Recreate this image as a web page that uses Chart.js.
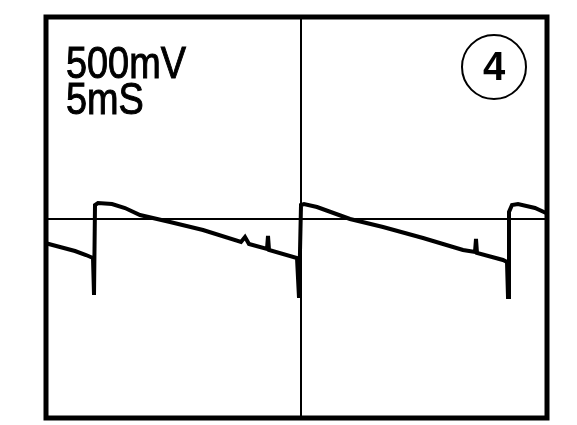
<!DOCTYPE html>
<html>
<head>
<meta charset="utf-8">
<script src="https://cdn.jsdelivr.net/npm/chart.js@4/dist/chart.umd.min.js"></script>
<style>
  html, body { margin: 0; padding: 0; background: #fff; }
  #scope { display: block; }
</style>
</head>
<body>
<canvas id="scope" width="577" height="425"></canvas>
<script>
// --- Trace data (time in ms, voltage in V) ---
const timeMs = [-0.9, -0.1, 1.4, 2.9, 4.0, 4.7, 4.8, 4.9, 5.2, 6.6, 7.9, 9.4, 12.4, 15.7,
    19.5, 19.9, 20.3, 22.1, 22.2, 22.3, 25.1, 25.3, 25.5, 25.8, 27.1, 30.4, 33.7, 37.7,
    41.7, 42.9, 43.0, 43.1, 45.7, 46.1, 46.2, 46.3, 46.6, 47.2, 48.9, 50.0];
const volts = [-0.20, -0.24, -0.28, -0.32, -0.36, -0.39, -0.76, 0.14, 0.16, 0.15, 0.11, 0.04, -0.03, -0.11,
    -0.23, -0.18, -0.25, -0.30, -0.17, -0.31, -0.39, -0.79, 0.14, 0.15, 0.12, 0.00, -0.08, -0.19,
    -0.31, -0.33, -0.20, -0.34, -0.41, -0.43, -0.78, 0.07, 0.14, 0.15, 0.11, 0.06];

// scope settings / graticule
const labels = ['500mV', '5mS'];
const channelLabel = '4';
const xGridTicks = [25.5];
const yGridTicks = [0];

const points = timeMs.map((t, i) => ({ x: t, y: volts[i] }));

// frame + text labels
const scopeDecor = {
    id: 'scopeDecor',
    beforeDraw(chart) {
        const ctx = chart.ctx;
        ctx.save();
        ctx.fillStyle = '#fff';
        ctx.fillRect(0, 0, chart.width, chart.height);
        ctx.restore();
    },
    afterDraw(chart) {
        const { ctx, chartArea: a } = chart;
        ctx.save();
        ctx.strokeStyle = '#000';
        ctx.lineWidth = 5;
        ctx.strokeRect(a.left, a.top, a.right - a.left, a.bottom - a.top);

        // narrow lettering like the scope's screen print
        ctx.fillStyle = '#000';
        ctx.textBaseline = 'alphabetic';
        ctx.font = '44px "Liberation Sans", Arial, sans-serif';
        ctx.lineWidth = 1;
        ctx.save();
        ctx.translate(66, 0);
        ctx.scale(0.86, 1);
        labels.forEach((txt, i) => {
            ctx.fillText(txt, 0, 78 + i * 36);
            ctx.strokeText(txt, 0, 78 + i * 36);
        });
        ctx.restore();

        // channel number in a circle
        ctx.lineWidth = 2;
        ctx.beginPath();
        ctx.arc(494, 67, 32, 0, Math.PI * 2);
        ctx.stroke();
        ctx.font = 'bold 40px "Liberation Sans", Arial, sans-serif';
        ctx.textAlign = 'center';
        ctx.textBaseline = 'middle';
        ctx.fillText(channelLabel, 494, 69);
        ctx.restore();
    }
};

new Chart(document.getElementById('scope'), {
    type: 'line',
    data: {
        datasets: [{
            data: points,
            borderColor: '#000',
            borderWidth: 4,
            pointRadius: 0,
            tension: 0,
            clip: false
        }]
    },
    options: {
        responsive: false,
        animation: false,
        layout: { padding: { left: 46, top: 17, right: 30, bottom: 7 } },
        plugins: { legend: { display: false }, tooltip: { enabled: false } },
        scales: {
            x: {
                type: 'linear',
                min: 0,
                max: 50.1,
                afterBuildTicks: (scale) => { scale.ticks = xGridTicks.map(v => ({ value: v })); },
                ticks: { display: false },
                grid: { color: '#000', lineWidth: 2, drawTicks: false },
                border: { display: false }
            },
            y: {
                min: -1.99,
                max: 2.02,
                afterBuildTicks: (scale) => { scale.ticks = yGridTicks.map(v => ({ value: v })); },
                ticks: { display: false },
                grid: { color: '#000', lineWidth: 2, drawTicks: false },
                border: { display: false }
            }
        }
    },
    plugins: [scopeDecor]
});
</script>
</body>
</html>
